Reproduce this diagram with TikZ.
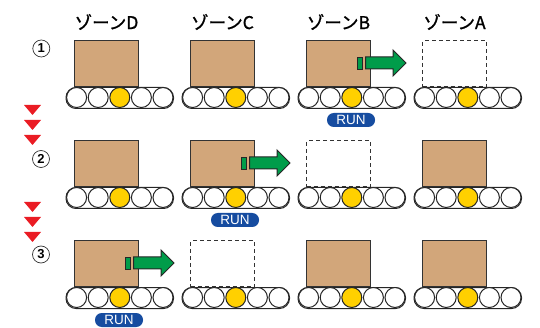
\documentclass[tikz,border=0pt]{standalone}
\usepackage{fontspec}
\setmainfont{Liberation Sans}
\newfontfamily\jpfont[FakeBold=1.2]{Noto Sans CJK JP}

\definecolor{cardboard}{RGB}{210,166,122}
\definecolor{rungreen}{RGB}{0,156,74}
\definecolor{runblue}{RGB}{22,76,160}
\definecolor{alertred}{RGB}{234,28,36}
\definecolor{rolleryellow}{RGB}{255,208,0}

\tikzset{
	parcel/.style={draw=black!80, line width=1.1pt, fill=cardboard, minimum width=64pt,
		minimum height=46pt, inner sep=0pt, anchor=south west},
	vacant/.style={parcel, fill=none, dash pattern=on 4pt off 3pt},
	belt/.style={draw=black!85, line width=1pt, fill=white, rounded corners=10pt},
	roller/.style={draw=black!85, line width=1pt, fill=white},
	zonelabel/.style={font=\jpfont\fontsize{17.5}{17.5}\selectfont, inner sep=0pt},
	stagemark/.style={circle, draw=black!80, line width=0.7pt, minimum size=17pt, inner sep=0pt,
		font=\bfseries\fontsize{13}{13}\selectfont},
	runtag/.style={fill=runblue, text=white, rounded corners=6.75pt, minimum width=48pt,
		minimum height=14pt, inner sep=0pt, font=\fontsize{13.5}{13.5}\selectfont},
	pusher/.style={draw=black!85, line width=1pt, fill=rungreen}
}

\begin{document}
\begin{tikzpicture}[x=1pt,y=-1pt]
	\useasboundingbox (0,0) rectangle (540,328);
	
	% zone headers
	\foreach \i/\z in {0/D,1/C,2/B,3/A}
	\node[zonelabel] (zone\z) at ({106.5+116*\i},22) {ゾーン\z};
	
	% stage numbers
	\node[stagemark] (stage1) at (41.3,48.5) {1};
	\node[stagemark] (stage2) at (41,159) {2};
	\node[stagemark] (stage3) at (41,254.5) {3};
	
	% red marks between the stages
	\foreach \t in {105,120,135,202,217,232}
	\fill[alertred] (24,\t) -- (41,\t) -- (32.5,{\t+10}) -- cycle;
	
	% boxes on each zone
	\foreach \i/\j/\kind in {0/0/parcel,1/0/parcel,2/0/parcel,3/0/vacant,
		0/1/parcel,1/1/parcel,2/1/vacant,3/1/parcel,
		0/2/parcel,1/2/vacant,2/2/parcel,3/2/parcel}
	\node[\kind] (box\i\j) at ({74+116*\i},{87.5+100*\j}) {};
	
	% conveyor: belt and five rollers, middle one yellow
	\foreach \i in {0,...,3}
	\foreach \j in {0,1,2}{
		\draw[belt] ({66+116*\i},{87.5+100*\j}) rectangle ++(107.5,21);
		\foreach \k in {0,1,3,4}
		\draw[roller] ({76.6+116*\i+21.6*\k},{97.5+100*\j}) circle[radius=10pt];
		\draw[roller, fill=rolleryellow] ({119.8+116*\i},{97.5+100*\j}) circle[radius=10pt];
	}
	
	% running zone: push arrow and RUN tag
	\foreach \i/\j in {2/0,1/1,0/2}{
		\draw[pusher] ({125.3+116*\i},{57.3+100*\j}) rectangle ++(4.7,12);
		\draw[pusher] ({133.5+116*\i},{57+100*\j}) -- ++(27.5,0) -- ++(0,-7)
		-- ++(13,13) -- ++(-13,13) -- ++(0,-7) -- ++(-27.5,0) -- cycle;
		\node[runtag] (run\i) at ({119+116*\i},{120+100*\j}) {RUN};
	}
\end{tikzpicture}
\end{document}
